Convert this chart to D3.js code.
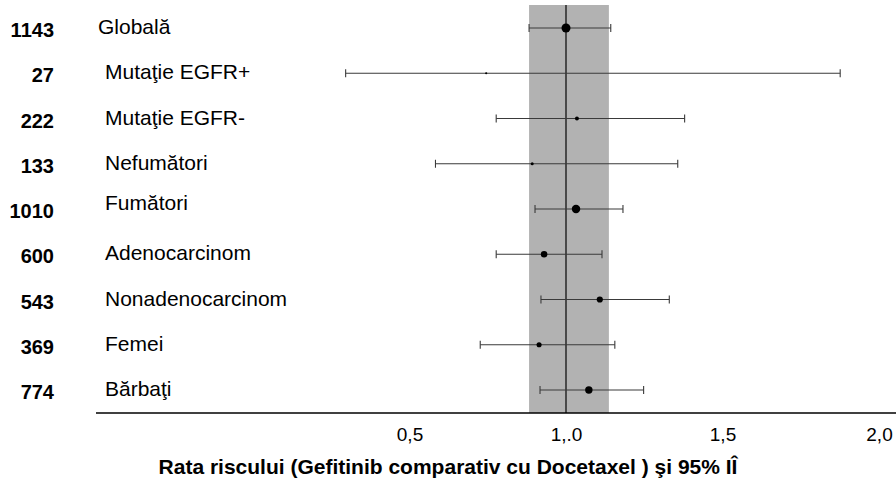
<!DOCTYPE html>
<html><head><meta charset="utf-8">
<script src="https://cdn.jsdelivr.net/npm/d3@7"></script>
<style>body{margin:0;background:#fff}svg{display:block}</style>
</head><body>
<svg id="c" width="896" height="481"></svg>
<script>
const categories = ["Globală","Mutaţie EGFR+","Mutaţie EGFR-","Nefumători","Fumători","Adenocarcinom","Nonadenocarcinom","Femei","Bărbaţi"];
const counts = [1143, 27, 222, 133, 1010, 600, 543, 369, 774];
const hr    = [1.00, 0.745, 1.035, 0.892, 1.032, 0.930, 1.108, 0.914, 1.073];
const lower = [0.882, 0.296, 0.777, 0.583, 0.901, 0.777, 0.920, 0.726, 0.917];
const upper = [1.143, 1.876, 1.379, 1.357, 1.182, 1.115, 1.330, 1.156, 1.248];
const band = [0.882, 1.137];
const tickValues = [0.5, 1.0, 1.5, 2.0];
const tickLabels = ["0,5", "1,.0", "1,5", "2,0"];
const axisTitle = "Rata riscului (Gefitinib comparativ cu Docetaxel ) şi 95% IÎ";

const svg = d3.select("#c");
const font = "'Liberation Sans', Arial, sans-serif";
const x = d3.scaleLinear().domain([0, 2]).range([253, 879]);
const y = d3.scalePoint().domain(categories).range([28, 390]);
const r = d3.scaleSqrt().domain([0, d3.max(counts)]).range([0, 4.5]);
const plotTop = 5, axisY = 413;

// band
svg.append("rect").attr("x", x(band[0])).attr("y", plotTop)
  .attr("width", x(band[1]) - x(band[0])).attr("height", axisY - plotTop)
  .attr("fill", "#b2b2b2");
// reference line at 1
svg.append("line").attr("x1", x(1)).attr("x2", x(1)).attr("y1", plotTop).attr("y2", axisY)
  .attr("stroke", "#111").attr("stroke-width", 1.3);

const data = categories.map((c, i) => ({c, n: counts[i], hr: hr[i], lo: lower[i], hi: upper[i]}));
const g = svg.append("g").selectAll("g").data(data).join("g");
g.append("line").attr("x1", d => x(d.lo)).attr("x2", d => x(d.hi))
  .attr("y1", d => y(d.c)).attr("y2", d => y(d.c)).attr("stroke", "#3a3a3a").attr("stroke-width", 1.1);
g.append("line").attr("x1", d => x(d.lo)).attr("x2", d => x(d.lo))
  .attr("y1", d => y(d.c) - 4).attr("y2", d => y(d.c) + 4).attr("stroke", "#3a3a3a").attr("stroke-width", 1.1);
g.append("line").attr("x1", d => x(d.hi)).attr("x2", d => x(d.hi))
  .attr("y1", d => y(d.c) - 4).attr("y2", d => y(d.c) + 4).attr("stroke", "#3a3a3a").attr("stroke-width", 1.1);
g.append("circle").attr("cx", d => x(d.hr)).attr("cy", d => y(d.c))
  .attr("r", d => Math.max(1.1, r(d.n))).attr("fill", "#000");

// labels
g.append("text").attr("x", 54).attr("y", d => y(d.c) + 9)
  .attr("text-anchor", "end").attr("font-family", font).attr("font-weight", "bold")
  .attr("font-size", 20).attr("fill", "#000").text(d => d.n);
g.append("text").attr("x", (d, i) => i === 0 ? 98 : 105).attr("y", (d, i) => y(d.c) + (i === 4 ? 1 : 6))
  .attr("font-family", font).attr("font-size", 21).attr("fill", "#000").text(d => d.c);

// axis line
svg.append("line").attr("x1", 96).attr("x2", 896).attr("y1", axisY).attr("y2", axisY)
  .attr("stroke", "#000").attr("stroke-width", 1.5);

const ax = svg.append("g").attr("transform", `translate(0,${axisY})`)
  .call(d3.axisBottom(x).tickValues(tickValues).tickSize(0).tickPadding(15)
    .tickFormat((d, i) => tickLabels[i]));
ax.select(".domain").remove();
ax.selectAll("text").attr("font-family", font).attr("font-size", 19).attr("fill", "#000");

svg.append("text").attr("x", 448).attr("y", 474).attr("text-anchor", "middle")
  .attr("font-family", font).attr("font-weight", "bold").attr("font-size", 21)
  .attr("fill", "#000").text(axisTitle);
</script>
</body></html>
